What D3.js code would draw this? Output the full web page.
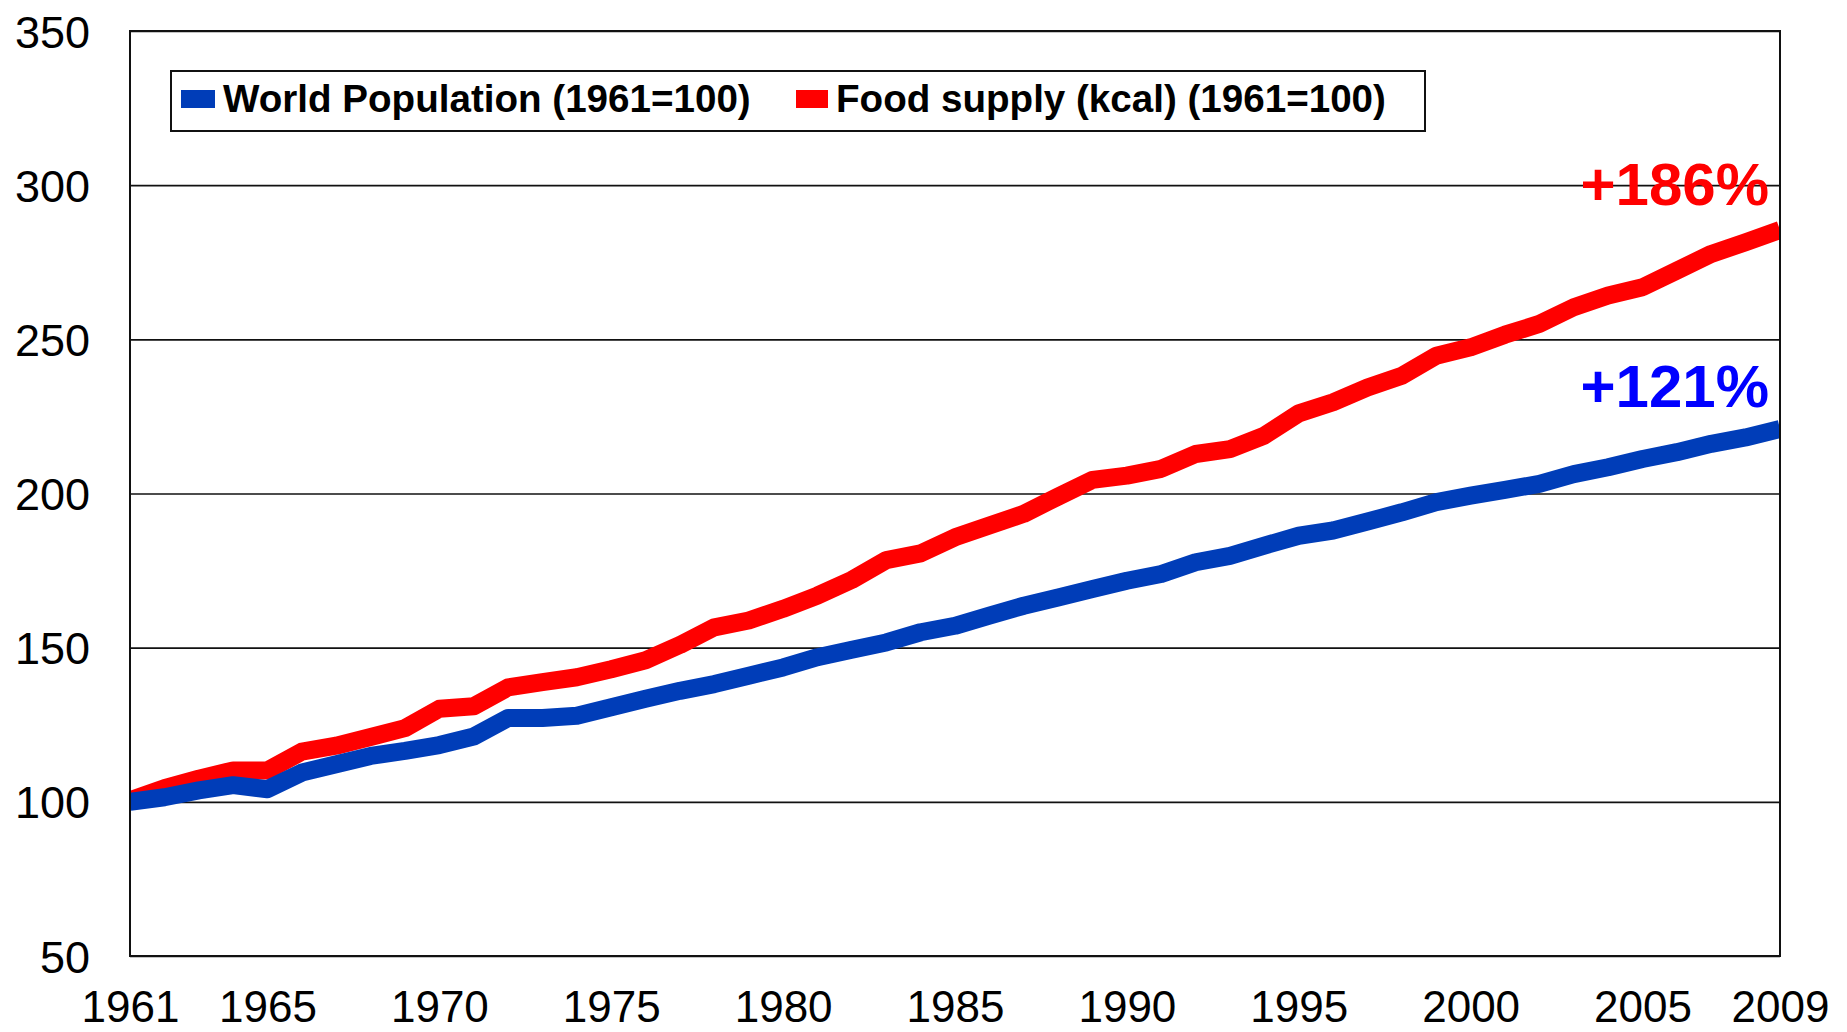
<!DOCTYPE html>
<html>
<head>
<meta charset="utf-8">
<script src="https://cdn.jsdelivr.net/npm/d3@7"></script>
<style>
  html, body { margin: 0; padding: 0; background: #fff; }
  svg { display: block; }
  text { font-family: "Liberation Sans", Arial, sans-serif; }
</style>
</head>
<body>
<svg id="chart" width="1847" height="1032"></svg>
<script>
// ---- data ----
const years = d3.range(1961, 2010);
const population = [100, 101.5, 103.7, 105.4, 104.1, 109.5, 112.2, 114.9, 116.5, 118.4,
  121.2, 127.2, 127.2, 127.9, 130.7, 133.4, 136.0, 138.2, 140.9, 143.6,
  146.9, 149.3, 151.7, 155.0, 157.1, 160.4, 163.6, 166.3, 169.0, 171.7,
  173.9, 177.7, 179.8, 183.1, 186.3, 188.0, 190.9, 193.9, 197.2, 199.3,
  201.2, 203.1, 206.3, 208.5, 211.2, 213.4, 216.1, 218.2, 220.9];
const foodSupply = [100.5, 104.4, 107.5, 110.2, 110.2, 116.3, 118.2, 121.0, 123.9, 130.2,
  131.0, 137.1, 138.8, 140.4, 143.0, 145.9, 150.9, 156.6, 158.8, 162.6,
  166.9, 172.0, 178.4, 180.6, 185.8, 189.6, 193.4, 199.0, 204.4, 205.8,
  208.0, 212.8, 214.4, 218.8, 226.0, 229.6, 234.4, 238.2, 244.7, 247.4,
  251.5, 255.0, 260.4, 264.2, 266.9, 272.3, 277.7, 281.5, 285.5];
const xTickValues = [1961, 1965, 1970, 1975, 1980, 1985, 1990, 1995, 2000, 2005, 2009];
const yTickValues = [50, 100, 150, 200, 250, 300, 350];
const seriesNames = ["World Population (1961=100)", "Food supply (kcal) (1961=100)"];
const seriesColors = ["#003DB8", "#FF0000"];
const annotations = ["+121%", "+186%"];
const annotationColors = ["#0000FF", "#FF0000"];

// ---- layout ----
const svg = d3.select("#chart");
const L = 130, R = 1780, T = 31, B = 956;
const x = d3.scaleLinear().domain([1961, 2009]).range([L, R]);
const y = d3.scaleLinear().domain([50, 350]).range([B, T]);

// gridlines
const grid = svg.append("g").attr("transform", `translate(${L},0)`)
  .call(d3.axisRight(y).tickValues(yTickValues).tickSize(R - L).tickFormat(""));
grid.select(".domain").remove();
grid.selectAll("line").attr("stroke", "#111").attr("stroke-width", 1.6);

// clip
svg.append("clipPath").attr("id", "plotclip")
  .append("rect").attr("x", L).attr("y", T).attr("width", R - L).attr("height", B - T);

// lines (food first, population on top)
const line = d3.line().x((d, i) => x(years[i])).y(d => y(d));
const seriesData = [population, foodSupply];
[1, 0].forEach(k => {
  svg.append("path")
    .datum(seriesData[k])
    .attr("clip-path", "url(#plotclip)")
    .attr("fill", "none")
    .attr("stroke", seriesColors[k])
    .attr("stroke-width", 18)
    .attr("stroke-linejoin", "round")
    .attr("d", line);
});

// plot border
svg.append("rect").attr("x", L).attr("y", T).attr("width", R - L).attr("height", B - T)
  .attr("fill", "none").attr("stroke", "#111").attr("stroke-width", 2);

// y axis labels
const yAxis = svg.append("g").attr("transform", `translate(${L},0)`)
  .call(d3.axisLeft(y).tickValues(yTickValues).tickSize(0).tickPadding(40));
yAxis.select(".domain").remove();
yAxis.selectAll("text")
  .attr("font-size", 45).attr("fill", "#000").attr("dy", 16)
  .style("font-family", '"Liberation Sans", Arial, sans-serif');

// x axis labels
const xAxis = svg.append("g").attr("transform", `translate(0,${B})`)
  .call(d3.axisBottom(x).tickValues(xTickValues).tickFormat(d3.format("d")).tickSize(0));
xAxis.select(".domain").remove();
xAxis.selectAll("text")
  .attr("font-size", 44).attr("fill", "#000").attr("y", 66).attr("dy", 0)
  .style("font-family", '"Liberation Sans", Arial, sans-serif');

// legend
const lg = svg.append("g");
lg.append("rect").attr("x", 171).attr("y", 71).attr("width", 1254).attr("height", 60)
  .attr("fill", "#fff").attr("stroke", "#111").attr("stroke-width", 2);
const legendX = [181, 796];
const swW = [34, 32];
seriesNames.forEach((name, i) => {
  lg.append("rect").attr("x", legendX[i]).attr("y", 90).attr("width", swW[i]).attr("height", 18)
    .attr("fill", seriesColors[i]);
  lg.append("text").attr("x", legendX[i] + swW[i] + 8).attr("y", 112)
    .attr("font-size", 38.6).attr("font-weight", "bold").attr("fill", "#000")
    .text(name);
});

// end annotations
const lastVals = [population[population.length - 1], foodSupply[foodSupply.length - 1]];
const annOffset = [-22, -25];
annotations.forEach((t, i) => {
  svg.append("text")
    .attr("x", x(2009) - 11)
    .attr("y", y(lastVals[i]) + annOffset[i])
    .attr("text-anchor", "end")
    .attr("font-size", 60).attr("font-weight", "bold")
    .attr("fill", annotationColors[i])
    .text(t);
});
</script>
</body>
</html>
